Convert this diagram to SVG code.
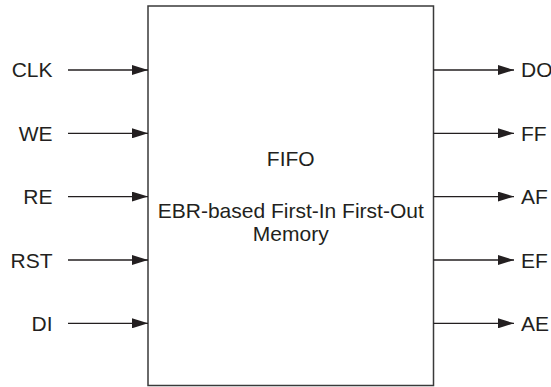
<svg xmlns="http://www.w3.org/2000/svg" width="551" height="387" viewBox="0 0 551 387">
<style>
  .lbl { font-family: "Liberation Sans", Arial, Helvetica, sans-serif; font-size: 21px; fill: #231f20; }
  .box { fill: #ffffff; stroke: #3a3a3a; stroke-width: 1.5; }
  .wire { stroke: #231f20; stroke-width: 1.3; fill: none; marker-end: url(#arr); }
</style>
<defs>
  <marker id="arr" markerUnits="userSpaceOnUse" markerWidth="16" markerHeight="10" refX="16" refY="5" orient="auto">
    <path d="M0,0 L16,5 L0,10 Z" fill="#231f20"/>
  </marker>
</defs>
<rect width="551" height="387" fill="#ffffff"/>
<g id="fifo">
  <rect class="box" x="148" y="6" width="285.5" height="379.5"/>
  <text class="lbl" x="290.75" y="165.5" text-anchor="middle">FIFO</text>
  <text class="lbl" x="290.75" y="217.5" text-anchor="middle">EBR-based First-In First-Out</text>
  <text class="lbl" x="290.75" y="241" text-anchor="middle">Memory</text>
</g>
<g id="in-labels">
  <text id="clk" class="lbl" x="52.5" y="77" text-anchor="end">CLK</text>
  <text id="we" class="lbl" x="52.5" y="140.5" text-anchor="end">WE</text>
  <text id="re" class="lbl" x="52.5" y="204" text-anchor="end">RE</text>
  <text id="rst" class="lbl" x="52.5" y="267.5" text-anchor="end">RST</text>
  <text id="di" class="lbl" x="52.5" y="331" text-anchor="end">DI</text>
</g>
<g id="out-labels">
  <text id="do" class="lbl" x="521" y="77">DO</text>
  <text id="ff" class="lbl" x="521" y="140.5">FF</text>
  <text id="af" class="lbl" x="521" y="204">AF</text>
  <text id="ef" class="lbl" x="521" y="267.5">EF</text>
  <text id="ae" class="lbl" x="521" y="331">AE</text>
</g>
<g id="connectors">
  <line class="wire" x1="68" y1="70" x2="148" y2="70"/>
  <line class="wire" x1="68" y1="133.3" x2="148" y2="133.3"/>
  <line class="wire" x1="68" y1="196.6" x2="148" y2="196.6"/>
  <line class="wire" x1="68" y1="260" x2="148" y2="260"/>
  <line class="wire" x1="68" y1="323.3" x2="148" y2="323.3"/>
  <line class="wire" x1="433.5" y1="70" x2="514" y2="70"/>
  <line class="wire" x1="433.5" y1="133.3" x2="514" y2="133.3"/>
  <line class="wire" x1="433.5" y1="196.6" x2="514" y2="196.6"/>
  <line class="wire" x1="433.5" y1="260" x2="514" y2="260"/>
  <line class="wire" x1="433.5" y1="323.3" x2="514" y2="323.3"/>
</g>
</svg>
